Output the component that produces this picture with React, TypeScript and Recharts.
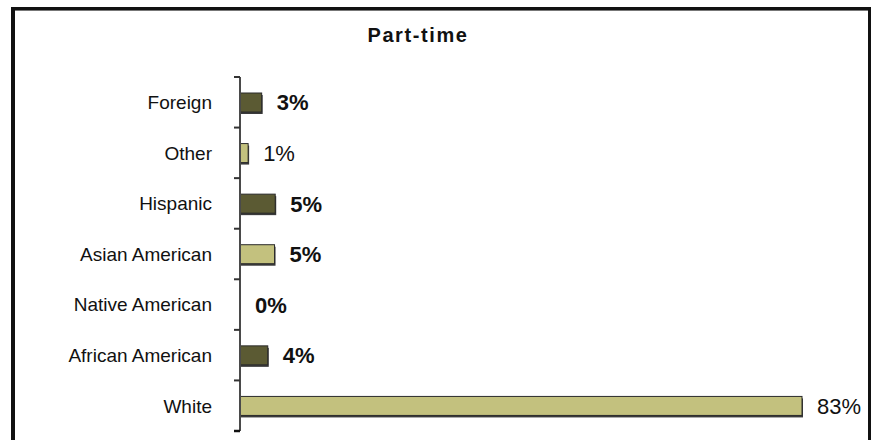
import React from 'react';
import { Bar, BarChart, Cell, LabelList, XAxis, YAxis } from 'recharts';

// categories top to bottom, share of part-time students (%)
const groups = [
  'Foreign',
  'Other',
  'Hispanic',
  'Asian American',
  'Native American',
  'African American',
  'White',
];
const shares = [3.2, 1.2, 5.2, 5.1, 0, 4.1, 83];

const DARK = '#5b5a33';
const LIGHT = '#c3c17e';
const barColors = [DARK, LIGHT, DARK, LIGHT, DARK, DARK, LIGHT];
const plainLabels = new Set([1, 6]);

const FONT = '"Liberation Sans", Arial, sans-serif';
const MARGIN = { top: 77, right: 70, bottom: 9, left: 10 };
const CHART_H = 440;

const data = groups.map((name, i) => ({ name, value: shares[i] }));

function ShadowBar(props: any) {
  const { x, y, width, height, fill } = props;
  if (!width || width <= 0) return null;
  return (
    <g>
      <rect x={x + 1} y={y + 2} width={width} height={height} fill="#3a3a3a" />
      <rect x={x} y={y} width={width} height={height} fill={fill} stroke="#2a2a2a" strokeWidth={1} />
    </g>
  );
}

function ValueLabel(props: any) {
  const { x, y, width, height, value, index } = props;
  return (
    <text
      x={x + width + 15}
      y={y + height / 2}
      dy="0.36em"
      fontFamily={FONT}
      fontSize={22}
      fontWeight={plainLabels.has(index) ? 400 : 700}
      fill="#111"
    >
      {`${Math.round(value)}%`}
    </text>
  );
}

// category label plus tick marks on the band edges (Excel style)
function EdgeTick(props: any) {
  const { x, y, payload, index } = props;
  const half =
    payload && payload.offset
      ? payload.offset
      : (CHART_H - MARGIN.top - MARGIN.bottom) / groups.length / 2;
  const axisX = x + 28;
  const last = index === groups.length - 1;
  return (
    <g>
      <line x1={axisX - 6} x2={axisX} y1={y - half} y2={y - half} stroke="#333" strokeWidth={2} />
      {last && (
        <line x1={axisX - 6} x2={axisX} y1={y + half} y2={y + half} stroke="#111" strokeWidth={2.5} />
      )}
      <text x={x} y={y} dy="0.36em" textAnchor="end" fontFamily={FONT} fontSize={19} fill="#111">
        {payload.value}
      </text>
    </g>
  );
}

export default function App() {
  return (
    <div
      style={{
        position: 'absolute',
        left: 0,
        top: 0,
        width: 872,
        height: 440,
        background: '#fff',
        overflow: 'hidden',
        fontFamily: FONT,
      }}
    >
      <div
        style={{
          position: 'absolute',
          left: 11,
          top: 7,
          width: 853,
          height: 460,
          borderTop: '3px solid #111',
          borderLeft: '4px solid #111',
          borderRight: '3px solid #111',
          boxShadow: 'inset 0 1px 0 #777',
        }}
      />
      <div
        style={{
          position: 'absolute',
          left: 318,
          top: 24,
          width: 200,
          textAlign: 'center',
          fontSize: 20,
          fontWeight: 700,
          letterSpacing: 1.6,
          color: '#111',
        }}
      >
        Part-time
      </div>
      <div style={{ position: 'absolute', left: 0, top: 0 }}>
        <BarChart
          width={872}
          height={CHART_H}
          data={data}
          layout="vertical"
          margin={MARGIN}
          barSize={19}
        >
          <XAxis type="number" dataKey="value" domain={[0, 83]} hide />
          <YAxis
            type="category"
            dataKey="name"
            width={230}
            axisLine={{ stroke: '#4a4a4a', strokeWidth: 2 }}
            tickLine={false}
            tickSize={6}
            tickMargin={22}
            tick={<EdgeTick />}
          />
          <Bar dataKey="value" shape={<ShadowBar />} isAnimationActive={false}>
            {data.map((d, i) => (
              <Cell key={`cell-${d.name}`} fill={barColors[i]} />
            ))}
            <LabelList dataKey="value" content={<ValueLabel />} />
          </Bar>
        </BarChart>
      </div>
    </div>
  );
}
